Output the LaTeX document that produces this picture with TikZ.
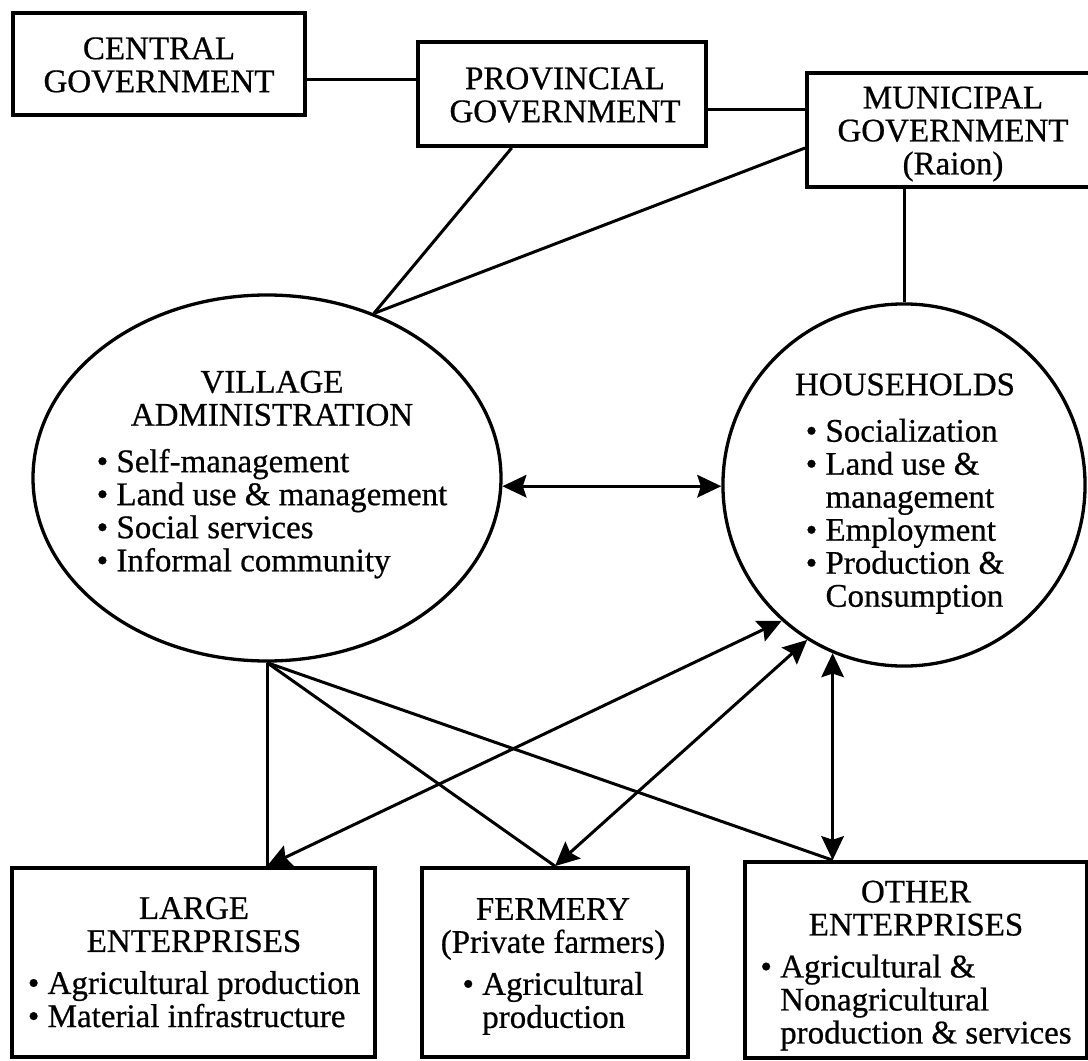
\documentclass[tikz,border=0pt]{standalone}
\usepackage{fontspec}
\setmainfont{Liberation Serif}[FakeBold=0.6]
\newfontfamily\scanfont[FakeBold=0.6]{Liberation Serif}
\usetikzlibrary{arrows.meta}
\usetikzlibrary{shapes}

\newcommand{\itemlist}[1]{\begin{tabular}[t]{@{}l@{}}#1\end{tabular}}
\newcommand{\bitem}{\textbullet\ }
\newcommand{\bcont}{\phantom{\textbullet}\ }

\begin{document}
\begin{tikzpicture}[x=0.33333pt, y=-0.33333pt,
			every node/.style={font=\scanfont\fontsize{11}{11}\selectfont, align=center, inner sep=0pt},
			govbox/.style={draw, line width=1.25pt, rectangle},
			entbox/.style={draw, line width=1.25pt, rectangle},
			ovalbox/.style={draw, line width=1.1pt},
			link/.style={line width=1pt},
			biarrow/.style={line width=1pt, {Stealth[length=8pt,width=7.5pt,inset=1.2pt]}-{Stealth[length=8pt,width=7.5pt,inset=1.2pt]}}]
			\useasboundingbox (0,0) rectangle (1088,1061);
			
			% government levels
			\node[govbox, minimum width=97.3pt, minimum height=34pt] (cen) at (159,64) {};
			\node (centxt) at (159,65) {CENTRAL\\GOVERNMENT};
			\node[govbox, minimum width=96pt, minimum height=34.7pt] (prov) at (562,94) {};
			\node (provtxt) at (565,95) {PROVINCIAL\\GOVERNMENT};
			\node[govbox, minimum width=96.7pt, minimum height=38pt] (mun) at (952,130) {};
			\node (muntxt) at (953,134) {MUNICIPAL\\GOVERNMENT\\(Raion)};
			
			% village and households
			\node[ovalbox, ellipse, minimum width=156pt, minimum height=122pt] (vil) at (267,478) {};
			\node (viltxt) at (272,476) {VILLAGE\\ADMINISTRATION\\[4.5pt]
				\itemlist{\bitem Self-management\\ \bitem Land use \& management\\ \bitem Social services\\ \bitem Informal community}};
			\node[ovalbox, circle, minimum size=120.7pt] (hh) at (904,485) {};
			\node (hhtxt) at (905,495) {HOUSEHOLDS\\[4.5pt]
				\itemlist{\bitem Socialization\\ \bitem Land use \&\\ \bcont management\\ \bitem Employment\\ \bitem Production \&\\ \bcont Consumption}};
			
			% enterprises
			\node[entbox, minimum width=121pt, minimum height=63pt] (large) at (193.5,962.5) {};
			\node (largetxt) at (194,967) {LARGE\\ENTERPRISES\\[3pt]
				\itemlist{\bitem Agricultural production\\ \bitem Material infrastructure}};
			\node[entbox, minimum width=88.7pt, minimum height=63pt] (fer) at (555,962.5) {};
			\node (fertxt) at (553,968) {FERMERY\\(Private farmers)\\[3pt]
				\itemlist{\bitem Agricultural\\ \bcont production}};
			\node[entbox, minimum width=114pt, minimum height=65.3pt] (oth) at (916,960) {};
			\node (othtxt) at (916,967) {OTHER\\ENTERPRISES\\[3pt]
				\itemlist{\bitem Agricultural \&\\ \bcont Nonagricultural\\ \bcont production \& services}};
			
			\coordinate (lgtop) at (vil.south |- large.north);
			\coordinate (othtop) at (hh.-113 |- oth.north);
			
			\draw[link] ([yshift=-5pt]cen.east) -- ([yshift=-5pt]cen.east -| prov.west);
			\draw[link] ([yshift=-5.3pt]prov.east) -- ([yshift=-5.3pt]prov.east -| mun.west);
			\draw[link] (prov.-133) -- (vil.57);
			\draw[link] ([yshift=-6pt]mun.west) -- (vil.57);
			\draw[link] (hh.north |- mun.south) -- (hh.north);
			\draw[biarrow] (vil.-2) -- (vil.-2 -| hh.west);
			
			\draw[link] (vil.south) -- (lgtop);
			\draw[link] (vil.south) -- (fer.north);
			\draw[link] (vil.south) -- (othtop);
			\draw[biarrow] (hh.-132) -- (lgtop);
			\draw[biarrow] (hh.-122) -- (fer.north);
			\draw[biarrow] (hh.-113) -- (othtop);
		\end{tikzpicture}
\end{document}
